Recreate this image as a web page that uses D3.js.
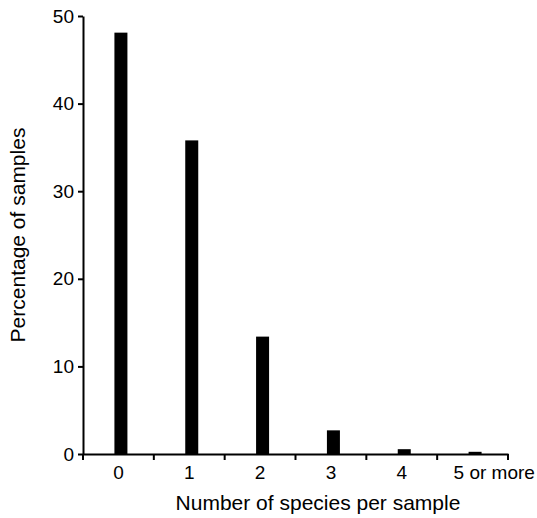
<!DOCTYPE html>
<html>
<head>
<meta charset="utf-8">
<script src="https://cdn.jsdelivr.net/npm/d3@7"></script>
<style>
body { margin: 0; background: #fff; }
text { font-family: "Liberation Sans", Arial, sans-serif; fill: #000; }
</style>
</head>
<body>
<script>
// kategorier och värden (procent av prover)
var categories = ["0", "1", "2", "3", "4", "5 or more"];
var percentages = [48.1, 35.8, 13.4, 2.7, 0.55, 0.25];
var yTicks = [0, 10, 20, 30, 40, 50];

var width = 537, height = 518;
var margin = {left: 83, top: 16, right: 29, bottom: 64};

var svg = d3.select("body").append("svg")
    .attr("width", width)
    .attr("height", height);

var xScale = d3.scaleBand()
    .domain(categories)
    .range([margin.left, width - margin.right]);

var yScale = d3.scaleLinear()
    .domain([0, 50])
    .range([height - margin.bottom, margin.top]);

var barWidth = 13;

// staplar
svg.selectAll("rect.bar").data(percentages)
    .enter()
    .append("rect")
    .attr("class", "bar")
    .attr("x", function (d, i) { return xScale(categories[i]) + xScale.bandwidth() / 2 - 4; })
    .attr("width", barWidth)
    .attr("y", function (d) { return yScale(d); })
    .attr("height", function (d) { return yScale(0) - yScale(d); })
    .attr("fill", "#000");

// y-axel
var yAxis = svg.append("g")
    .attr("transform", "translate(" + margin.left + ",0)")
    .call(d3.axisLeft(yScale).tickValues(yTicks).tickSize(5).tickPadding(4).tickSizeOuter(0));

// x-axel, ticks mellan kategorierna
var xAxis = svg.append("g")
    .attr("transform", "translate(0," + yScale(0) + ")")
    .call(d3.axisBottom(xScale).tickSize(0).tickPadding(12).tickSizeOuter(0));

var bounds = [margin.left].concat(categories.map(function (c) { return xScale(c) + xScale.bandwidth(); }));
xAxis.selectAll("line.sep").data(bounds)
    .enter()
    .append("line")
    .attr("class", "sep")
    .attr("x1", function (d) { return d; })
    .attr("x2", function (d) { return d; })
    .attr("y1", 0)
    .attr("y2", 6)
    .attr("stroke", "#000")
    .attr("stroke-width", 2);

svg.selectAll(".domain").attr("stroke", "#000").attr("stroke-width", 2);
yAxis.selectAll(".tick line").attr("stroke-width", 2);
svg.selectAll(".tick text").style("font-size", "19px").style("font-family", "'Liberation Sans', Arial, sans-serif");

// sista etiketten börjar nära bandets mitt, inte centrerad
xAxis.selectAll(".tick text")
    .filter(function (d) { return d === "5 or more"; })
    .attr("text-anchor", "start")
    .attr("dx", -19);

// axeltitlar
svg.append("text")
    .attr("x", 318)
    .attr("y", 510)
    .attr("text-anchor", "middle")
    .style("font-size", "21px")
    .text("Number of species per sample");

svg.append("text")
    .attr("transform", "translate(25,235) rotate(-90)")
    .attr("text-anchor", "middle")
    .style("font-size", "21px")
    .text("Percentage of samples");
</script>
</body>
</html>
